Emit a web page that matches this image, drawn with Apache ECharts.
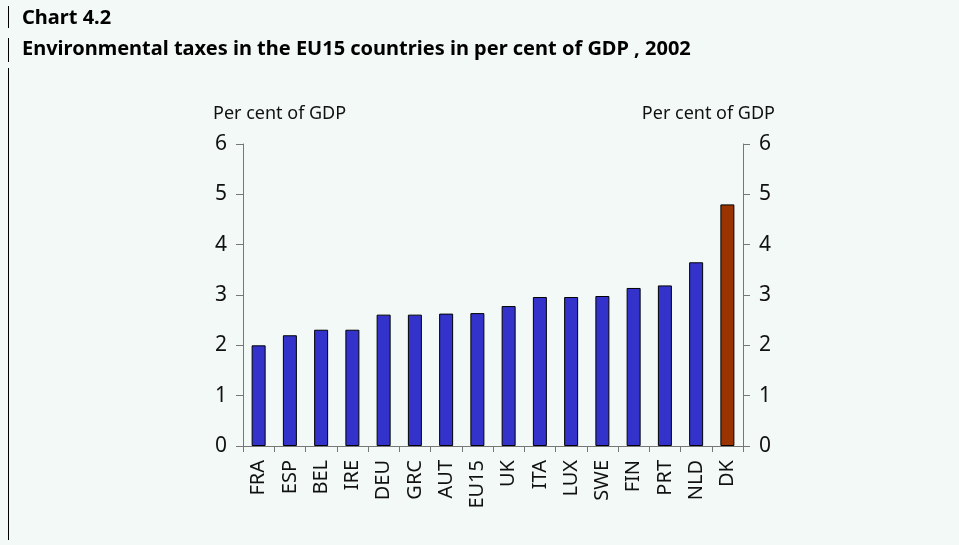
<!DOCTYPE html>
<html lang="en">
<head>
  <meta charset="UTF-8">
  <title>Chart 4.2</title>
  <script src="https://cdn.jsdelivr.net/npm/echarts@6/dist/echarts.min.js"></script>
  <style>
    html, body { margin: 0; padding: 0; background: #f2f9f6; }
  </style>
</head>
<body>
  <div id="chart" style="width: 959px;height:545px;"></div>
  <script>
    // categories and values (per cent of GDP, 2002)
    var countries = ['FRA', 'ESP', 'BEL', 'IRE', 'DEU', 'GRC', 'AUT', 'EU15', 'UK', 'ITA', 'LUX', 'SWE', 'FIN', 'PRT', 'NLD', 'DK'];
    var taxShare = [2.0, 2.2, 2.31, 2.31, 2.61, 2.61, 2.63, 2.64, 2.78, 2.96, 2.96, 2.98, 3.14, 3.19, 3.65, 4.8];
    var highlighted = 'DK';
    var yTicks = [0, 6, 1]; // min, max, interval

    var chart = echarts.init(document.getElementById('chart'));
    var font = '"Noto Sans", "Open Sans", sans-serif';

    var barData = [];
    for (var i = 0; i < countries.length; i++) {
      barData.push({
        value: taxShare[i],
        itemStyle: { color: countries[i] === highlighted ? '#993300' : '#3333cc' }
      });
    }

    function valueAxis(pos) {
      return {
        type: 'value',
        position: pos,
        min: yTicks[0],
        max: yTicks[1],
        interval: yTicks[2],
        axisLine: { show: true, lineStyle: { color: '#777', width: 1 } },
        axisTick: { show: true, length: 7, lineStyle: { color: '#777' } },
        axisLabel: { color: '#111', fontSize: 21, fontFamily: font, margin: 16 },
        splitLine: { show: false }
      };
    }

    var option = {
      backgroundColor: '#f2f9f6',
      animation: false,
      grid: { left: 243, right: 216, top: 144, bottom: 99 },
      graphic: [
        // thin rules at the left edge
        { type: 'line', shape: { x1: 8.5, y1: 6, x2: 8.5, y2: 28 }, style: { stroke: '#000', lineWidth: 1 } },
        { type: 'line', shape: { x1: 8.5, y1: 38, x2: 8.5, y2: 62 }, style: { stroke: '#000', lineWidth: 1 } },
        { type: 'line', shape: { x1: 8.5, y1: 68, x2: 8.5, y2: 540 }, style: { stroke: '#000', lineWidth: 1 } },
        { type: 'text', left: 22, top: 8, style: { text: 'Chart 4.2', font: 'bold 20px ' + font, fill: '#000' } },
        { type: 'text', left: 22, top: 39, style: { text: 'Environmental taxes in the EU15 countries in per cent of GDP , 2002', font: 'bold 20px ' + font, fill: '#000' } },
        { type: 'text', left: 213, top: 105, style: { text: 'Per cent of GDP', font: '18px ' + font, fill: '#111' } },
        { type: 'text', right: 184, top: 105, style: { text: 'Per cent of GDP', font: '18px ' + font, fill: '#111' } }
      ],
      xAxis: {
        type: 'category',
        data: countries,
        axisLine: { lineStyle: { color: '#777' } },
        axisTick: { show: true, length: 6, lineStyle: { color: '#777' } },
        axisLabel: { rotate: 90, color: '#111', fontSize: 20, fontFamily: font, margin: 14, interval: 0 }
      },
      yAxis: [valueAxis('left'), valueAxis('right')],
      series: [{
        type: 'bar',
        data: barData,
        barWidth: 14,
        itemStyle: { borderColor: '#000', borderWidth: 1 }
      }]
    };

    chart.setOption(option);
  </script>
</body>
</html>
